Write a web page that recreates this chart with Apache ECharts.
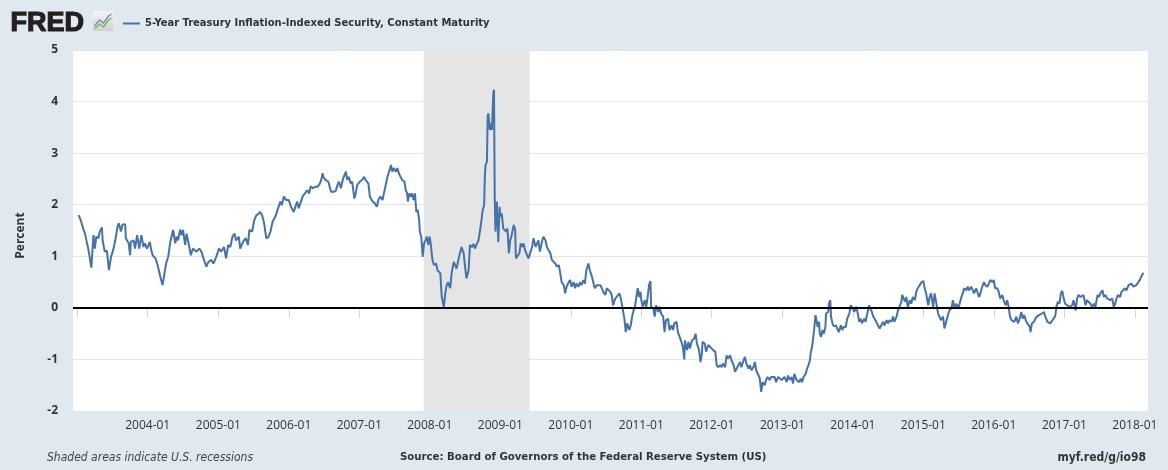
<!DOCTYPE html>
<html>
<head>
<meta charset="utf-8">
<script src="https://cdn.jsdelivr.net/npm/echarts@6/dist/echarts.min.js"></script>
<style>
html,body{margin:0;padding:0;background:#e1e9f0;}
#chart{width:1168px;height:470px;}
</style>
</head>
<body>
<div id="chart"></div>
<script>
// ---- Data (decimal year, percent) ----
const seriesName = '5-Year Treasury Inflation-Indexed Security, Constant Maturity';
const yTickValues = [-2, -1, 0, 1, 2, 3, 4, 5];
const xTickYears = [2003, 2004, 2005, 2006, 2007, 2008, 2009, 2010, 2011, 2012, 2013, 2014, 2015, 2016, 2017, 2018];
const xLabelYears = [2004, 2005, 2006, 2007, 2008, 2009, 2010, 2011, 2012, 2013, 2014, 2015, 2016, 2017, 2018];
const xRange = [[2002, 12, 10], [2018, 3, 10]];
const recession = [[2007, 12, 1], [2009, 6, 1]];

const obs2003to2005 = [[2003.02,1.80],[2003.05,1.70],[2003.09,1.51],[2003.11,1.44],[2003.16,1.12],[2003.20,0.78],[2003.23,1.41],[2003.25,1.15],[2003.27,1.38],[2003.30,1.35],[2003.32,1.48],[2003.35,1.56],[2003.36,1.31],[2003.39,1.09],[2003.42,1.11],[2003.45,0.73],[2003.48,0.99],[2003.51,1.12],[2003.54,1.31],[2003.57,1.57],[2003.59,1.64],[2003.62,1.48],[2003.64,1.61],[2003.68,1.62],[2003.69,1.35],[2003.73,1.25],[2003.75,1.02],[2003.76,1.28],[2003.80,1.31],[2003.82,1.15],[2003.85,1.41],[2003.88,1.15],[2003.91,1.41],[2003.94,1.18],[2003.96,1.25],[2003.99,1.15],
[2004.03,1.28],[2004.05,1.12],[2004.07,1.02],[2004.11,0.96],[2004.14,0.83],[2004.18,0.60],[2004.21,0.44],[2004.23,0.44],[2004.26,0.86],[2004.29,0.99],[2004.32,1.28],[2004.34,1.25],[2004.36,1.51],[2004.39,1.25],[2004.41,1.38],[2004.43,1.31],[2004.46,1.52],[2004.48,1.41],[2004.50,1.51],[2004.53,1.22],[2004.55,1.44],[2004.57,1.31],[2004.61,1.02],[2004.64,1.15],[2004.69,1.09],[2004.73,1.15],[2004.76,1.09],[2004.79,0.96],[2004.83,0.80],[2004.86,0.89],[2004.90,0.93],[2004.93,0.86],[2004.97,0.99],
[2005.01,1.15],[2005.04,1.09],[2005.08,1.18],[2005.11,0.96],[2005.14,1.22],[2005.17,1.18],[2005.20,1.38],[2005.23,1.44],[2005.25,1.31],[2005.29,1.38],[2005.31,1.15],[2005.35,1.28],[2005.39,1.35],[2005.42,1.22],[2005.44,1.51],[2005.48,1.48],[2005.51,1.70],[2005.54,1.80],[2005.57,1.82]];

const obs2005to2008 = [[2005.59,1.86],[2005.62,1.80],[2005.65,1.64],[2005.68,1.35],[2005.71,1.37],[2005.74,1.48],[2005.77,1.67],[2005.81,1.77],[2005.84,1.90],[2005.88,2.06],[2005.90,1.99],[2005.93,2.16],[2005.96,2.09],
[2006.00,2.09],[2006.03,1.96],[2006.07,1.86],[2006.10,1.99],[2006.12,2.06],[2006.14,1.93],[2006.18,2.09],[2006.20,2.17],[2006.23,2.22],[2006.26,2.28],[2006.29,2.22],[2006.31,2.36],[2006.34,2.32],[2006.38,2.35],[2006.41,2.35],[2006.44,2.41],[2006.46,2.48],[2006.48,2.61],[2006.49,2.54],[2006.52,2.48],[2006.56,2.45],[2006.58,2.35],[2006.60,2.25],[2006.64,2.25],[2006.67,2.28],[2006.69,2.38],[2006.71,2.45],[2006.74,2.32],[2006.76,2.45],[2006.78,2.54],[2006.81,2.64],[2006.83,2.48],[2006.85,2.54],[2006.88,2.41],[2006.90,2.45],[2006.93,2.12],[2006.95,2.22],[2006.97,2.38],
[2007.01,2.45],[2007.04,2.48],[2007.07,2.54],[2007.09,2.48],[2007.13,2.41],[2007.15,2.16],[2007.19,2.06],[2007.22,2.03],[2007.25,1.96],[2007.27,2.09],[2007.30,2.16],[2007.33,2.09],[2007.35,2.22],[2007.38,2.41],[2007.40,2.54],[2007.43,2.67],[2007.45,2.77],[2007.47,2.64],[2007.49,2.71],[2007.52,2.64],[2007.54,2.71],[2007.57,2.58],[2007.59,2.61],[2007.61,2.48],[2007.64,2.45],[2007.66,2.28],[2007.68,2.22],[2007.69,2.06],[2007.71,2.22],[2007.73,2.16],[2007.75,2.22],[2007.77,2.09],[2007.79,2.22],[2007.81,1.86],[2007.83,1.90],[2007.85,1.70],[2007.86,1.48],[2007.88,1.38],[2007.90,0.99],[2007.92,1.25],[2007.94,1.31],[2007.96,1.38],[2007.98,1.22],
[2008.00,1.38],[2008.02,1.18],[2008.03,1.02],[2008.04,0.93],[2008.06,0.83],[2008.09,0.86],[2008.11,0.73],[2008.13,0.76],[2008.15,0.67],[2008.17,0.21],[2008.20,0.02],[2008.22,0.28]];

const obs2008to2010 = [[2008.24,0.44],[2008.26,0.50],[2008.29,0.38],[2008.31,0.67],[2008.34,0.89],[2008.36,0.83],[2008.38,0.76],[2008.41,0.96],[2008.43,0.93],[2008.45,1.18],[2008.48,1.06],[2008.50,0.80],[2008.52,0.57],[2008.55,0.73],[2008.57,1.22],[2008.60,1.18],[2008.62,1.24],[2008.64,1.15],[2008.67,1.25],[2008.69,1.31],[2008.71,1.48],[2008.73,1.67],[2008.75,1.90],[2008.77,1.99],[2008.78,2.54],[2008.79,2.77],[2008.81,2.83],[2008.82,3.71],[2008.83,3.77],[2008.85,3.45],[2008.86,3.58],[2008.88,3.45],[2008.90,4.16],[2008.91,4.23],[2008.92,2.16],[2008.93,1.48],[2008.95,2.06],[2008.96,1.70],[2008.97,1.28],[2008.99,1.96],
[2009.00,1.77],[2009.02,1.83],[2009.04,1.54],[2009.05,1.57],[2009.08,1.48],[2009.10,1.54],[2009.12,1.06],[2009.14,1.31],[2009.16,1.41],[2009.19,1.61],[2009.21,1.51],[2009.22,0.96],[2009.24,0.93],[2009.27,1.06],[2009.29,1.25],[2009.31,1.18],[2009.33,1.25],[2009.35,1.12],[2009.38,1.02],[2009.40,0.96],[2009.42,0.99],[2009.45,1.18],[2009.47,1.35],[2009.50,1.18],[2009.52,1.25],[2009.54,1.31],[2009.56,1.09],[2009.59,1.28],[2009.61,1.38],[2009.64,1.31],[2009.66,1.18],[2009.68,1.15],[2009.71,1.06],[2009.73,0.93],[2009.75,0.96],[2009.78,0.86],[2009.80,0.80],[2009.83,0.83],[2009.85,0.67],[2009.87,0.50],[2009.90,0.44],[2009.92,0.28],[2009.94,0.41],[2009.97,0.50],[2009.99,0.54],
[2010.01,0.41],[2010.04,0.50],[2010.06,0.38],[2010.08,0.47],[2010.11,0.41],[2010.13,0.50],[2010.15,0.44],[2010.18,0.54],[2010.20,0.47],[2010.22,0.73],[2010.25,0.86],[2010.27,0.73],[2010.30,0.60],[2010.32,0.63],[2010.34,0.38],[2010.37,0.44],[2010.39,0.41],[2010.42,0.44],[2010.44,0.38],[2010.46,0.31],[2010.49,0.25],[2010.51,0.38],[2010.53,0.38],[2010.56,0.31],[2010.58,0.25],[2010.60,0.05],[2010.63,0.18],[2010.65,0.21],[2010.69,0.28]];

const obs2010to2013 = [[2010.71,0.18],[2010.74,-0.05],[2010.76,-0.21],[2010.78,-0.47],[2010.80,-0.30],[2010.83,-0.43],[2010.85,-0.34],[2010.87,-0.17],[2010.89,-0.05],[2010.91,0.02],[2010.93,0.21],[2010.95,0.38],[2010.97,0.21],[2010.99,0.31],
[2011.00,0.15],[2011.02,0.02],[2011.05,0.15],[2011.07,0.02],[2011.09,0.21],[2011.11,0.44],[2011.13,0.52],[2011.14,0.02],[2011.17,-0.01],[2011.19,-0.17],[2011.21,0.05],[2011.24,-0.08],[2011.26,0.02],[2011.28,-0.11],[2011.31,-0.17],[2011.33,-0.47],[2011.35,-0.24],[2011.38,-0.21],[2011.40,-0.43],[2011.43,-0.34],[2011.45,-0.43],[2011.47,-0.30],[2011.50,-0.27],[2011.52,-0.47],[2011.54,-0.50],[2011.57,-0.66],[2011.59,-0.76],[2011.61,-1.00],[2011.62,-0.63],[2011.65,-0.82],[2011.67,-0.66],[2011.69,-0.79],[2011.72,-0.63],[2011.75,-0.60],[2011.77,-0.50],[2011.79,-0.69],[2011.82,-0.82],[2011.84,-1.05],[2011.86,-0.89],[2011.87,-0.66],[2011.90,-0.69],[2011.92,-0.85],[2011.95,-0.72],[2011.98,-0.76],
[2012.00,-0.76],[2012.02,-0.82],[2012.05,-0.85],[2012.07,-1.11],[2012.09,-1.15],[2012.12,-1.11],[2012.14,-1.15],[2012.16,-1.08],[2012.19,-1.15],[2012.21,-0.92],[2012.23,-0.98],[2012.26,-0.92],[2012.28,-1.02],[2012.31,-1.11],[2012.33,-1.24],[2012.35,-1.18],[2012.38,-1.11],[2012.40,-1.05],[2012.42,-1.15],[2012.45,-1.02],[2012.47,-0.95],[2012.49,-1.08],[2012.52,-1.18],[2012.54,-1.11],[2012.56,-1.21],[2012.59,-1.15],[2012.61,-1.05],[2012.63,-1.21],[2012.65,-1.24],[2012.68,-1.37],[2012.70,-1.63],[2012.72,-1.44],[2012.75,-1.50],[2012.77,-1.40],[2012.79,-1.34],[2012.82,-1.40],[2012.84,-1.34],[2012.86,-1.37],[2012.89,-1.34],[2012.91,-1.44],[2012.94,-1.34],[2012.96,-1.37],[2012.99,-1.40],
[2013.01,-1.37],[2013.03,-1.34],[2013.06,-1.44],[2013.08,-1.31],[2013.10,-1.40],[2013.13,-1.34],[2013.15,-1.47],[2013.17,-1.28],[2013.20,-1.40],[2013.24,-1.44]];

const obs2013to2015 = [[2013.26,-1.37],[2013.28,-1.44],[2013.30,-1.34],[2013.33,-1.28],[2013.35,-1.18],[2013.37,-1.11],[2013.39,-1.02],[2013.40,-0.89],[2013.42,-0.76],[2013.43,-0.66],[2013.45,-0.43],[2013.47,-0.14],[2013.48,-0.21],[2013.50,-0.37],[2013.52,-0.27],[2013.53,-0.50],[2013.55,-0.56],[2013.57,-0.43],[2013.59,-0.50],[2013.61,-0.37],[2013.62,-0.11],[2013.65,-0.08],[2013.66,0.08],[2013.68,0.15],[2013.69,-0.17],[2013.71,-0.30],[2013.73,-0.36],[2013.76,-0.34],[2013.78,-0.37],[2013.80,-0.47],[2013.83,-0.34],[2013.85,-0.43],[2013.87,-0.37],[2013.90,-0.37],[2013.92,-0.21],[2013.95,-0.11],[2013.97,0.05],
[2014.00,-0.01],[2014.02,-0.08],[2014.05,0.02],[2014.07,-0.11],[2014.09,-0.27],[2014.11,-0.21],[2014.13,-0.30],[2014.16,-0.21],[2014.18,-0.27],[2014.21,-0.08],[2014.23,0.05],[2014.25,0.08],[2014.27,-0.08],[2014.29,-0.17],[2014.31,-0.21],[2014.33,-0.27],[2014.35,-0.30],[2014.38,-0.40],[2014.40,-0.43],[2014.43,-0.27],[2014.45,-0.34],[2014.48,-0.24],[2014.50,-0.30],[2014.52,-0.24],[2014.55,-0.27],[2014.57,-0.17],[2014.59,-0.27],[2014.62,-0.17],[2014.64,-0.05],[2014.66,0.02],[2014.69,0.12],[2014.70,0.25],[2014.72,0.28],[2014.74,0.12],[2014.76,0.21],[2014.78,0.02],[2014.81,0.15],[2014.83,0.08],[2014.85,0.21],[2014.88,0.15],[2014.90,0.31],[2014.92,0.38],[2014.95,0.44],[2014.97,0.49],
[2015.00,0.52],[2015.02,0.38],[2015.04,0.28],[2015.07,0.05],[2015.09,0.21],[2015.11,0.28],[2015.14,0.02],[2015.16,0.28],[2015.18,0.25],[2015.21,-0.11],[2015.23,-0.14],[2015.25,-0.24],[2015.28,-0.17],[2015.30,-0.40],[2015.33,-0.24],[2015.35,-0.14],[2015.37,-0.05],[2015.40,-0.01],[2015.42,0.15],[2015.44,0.02],[2015.47,0.08],[2015.49,-0.01],[2015.51,0.05],[2015.54,0.21],[2015.56,0.28],[2015.58,0.38],[2015.61,0.34],[2015.63,0.41],[2015.65,0.34],[2015.68,0.41],[2015.70,0.38],[2015.72,0.28],[2015.75,0.38],[2015.79,0.21]];

const obs2015to2018 = [[2015.81,0.28],[2015.83,0.38],[2015.86,0.50],[2015.88,0.44],[2015.91,0.41],[2015.93,0.47],[2015.95,0.54],[2015.98,0.50],
[2016.00,0.54],[2016.02,0.38],[2016.05,0.38],[2016.07,0.31],[2016.09,0.18],[2016.12,0.25],[2016.14,0.15],[2016.17,0.05],[2016.19,0.15],[2016.21,0.02],[2016.23,-0.17],[2016.25,-0.24],[2016.27,-0.21],[2016.29,-0.27],[2016.32,-0.17],[2016.34,-0.30],[2016.36,-0.24],[2016.39,-0.08],[2016.41,-0.21],[2016.43,-0.14],[2016.46,-0.27],[2016.48,-0.30],[2016.51,-0.37],[2016.52,-0.47],[2016.54,-0.30],[2016.57,-0.27],[2016.59,-0.21],[2016.61,-0.17],[2016.64,-0.14],[2016.66,-0.17],[2016.68,-0.11],[2016.71,-0.08],[2016.73,-0.17],[2016.76,-0.27],[2016.78,-0.24],[2016.80,-0.30],[2016.83,-0.24],[2016.85,-0.27],[2016.87,-0.16],[2016.89,0.05],[2016.91,0.12],[2016.93,0.08],[2016.95,0.28],[2016.97,0.33],[2016.99,0.18],
[2017.01,0.08],[2017.04,0.05],[2017.06,0.08],[2017.08,0.02],[2017.11,0.05],[2017.13,0.15],[2017.16,-0.05],[2017.18,0.18],[2017.20,0.25],[2017.23,0.21],[2017.25,0.18],[2017.27,0.25],[2017.30,0.05],[2017.32,0.15],[2017.34,0.18],[2017.37,0.08],[2017.39,0.02],[2017.42,0.08],[2017.44,0.02],[2017.47,0.25],[2017.49,0.21],[2017.51,0.28],[2017.54,0.34],[2017.56,0.21],[2017.58,0.25],[2017.61,0.18],[2017.63,0.21],[2017.65,0.15],[2017.68,0.18],[2017.70,0.02],[2017.72,0.08],[2017.74,0.18],[2017.76,0.25],[2017.79,0.21],[2017.81,0.31],[2017.83,0.28],[2017.86,0.38],[2017.88,0.34],[2017.91,0.44],[2017.93,0.42],[2017.95,0.47],[2017.98,0.41],
[2018.00,0.38],[2018.02,0.44],[2018.05,0.50],[2018.07,0.54],[2018.09,0.60],[2018.12,0.68]];

// ---- helpers ----
function yearToTime(y) {
  const Y = Math.floor(y);
  const a = Date.UTC(Y, 0, 1);
  const b = Date.UTC(Y + 1, 0, 1);
  return a + (y - Y) * (b - a);
}
function ymd(arr) { return Date.UTC(arr[0], arr[1] - 1, arr[2]); }

const allObs = [].concat(obs2003to2005, obs2005to2008, obs2008to2010, obs2010to2013, obs2013to2015, obs2015to2018);
const lineData = allObs.map(p => [yearToTime(p[0]), p[1]]);
const tickTimes = xTickYears.map(y => Date.UTC(y, 0, 1));
const labelTimes = xLabelYears.map(y => Date.UTC(y, 0, 1));

const FONT = "'Open Sans', 'Liberation Sans', sans-serif";
const NARROW = "'DejaVu Sans Condensed', 'Liberation Sans', sans-serif";

const chart = echarts.init(document.getElementById('chart'), null, { renderer: 'canvas' });
chart.setOption({
  animation: false,
  backgroundColor: '#e1e9f0',
  grid: { left: 73, right: 20, top: 50, bottom: 59, show: true, backgroundColor: '#ffffff', borderWidth: 0 },
  legend: {
    data: [seriesName],
    left: 118, top: 13,
    icon: 'rect', itemWidth: 17, itemHeight: 2, itemGap: 5,
    textStyle: { color: '#333333', fontSize: 11.1, fontWeight: 'bold', fontFamily: NARROW },
    selectedMode: false
  },
  xAxis: {
    type: 'value',
    min: ymd(xRange[0]), max: ymd(xRange[1]),
    splitLine: { show: false },
    axisLine: { show: true, lineStyle: { color: '#ccd6eb', width: 1 } },
    axisTick: { show: true, length: 10, lineStyle: { color: '#ccd6eb' }, customValues: tickTimes },
    axisLabel: {
      color: '#333333', fontSize: 12, fontFamily: FONT, margin: 9,
      customValues: labelTimes,
      formatter: function (v) { const d = new Date(v); return d.getUTCFullYear() + '-01'; }
    }
  },
  yAxis: {
    type: 'value', min: -2, max: 5, interval: 1,
    name: 'Percent', nameLocation: 'middle', nameGap: 46, nameRotate: 90,
    nameTextStyle: { color: '#333333', fontSize: 12, fontFamily: FONT, fontWeight: 'bold', padding: [0, 10, 0, 0] },
    axisLine: { show: false }, axisTick: { show: false },
    splitLine: { show: true, lineStyle: { color: '#e6e6e6', width: 1 } },
    axisLabel: { color: '#333333', fontSize: 12, fontFamily: FONT, fontWeight: 'bold', margin: 15 }
  },
  series: [{
    name: seriesName,
    type: 'line',
    data: lineData,
    showSymbol: false,
    symbol: 'none',
    lineStyle: { color: '#4572a7', width: 2 },
    itemStyle: { color: '#4572a7' },
    markArea: {
      silent: true,
      itemStyle: { color: '#e5e5e5' },
      data: [[{ xAxis: ymd(recession[0]) }, { xAxis: ymd(recession[1]) }]]
    },
    markLine: {
      silent: true, symbol: ['none', 'none'],
      label: { show: false },
      lineStyle: { color: '#000000', width: 2, type: 'solid' },
      data: [{ yAxis: 0 }]
    }
  }],
  graphic: [
    { type: 'text', left: 10, top: 9, style: { text: 'FRED', fill: '#231f20', stroke: '#231f20', lineWidth: 1.2, font: "bold 27px 'Liberation Sans', Arial, sans-serif" } },
    { type: 'group', left: 92, top: 11, children: [
      { type: 'rect', shape: { x: 0, y: 0, width: 21, height: 20, r: 2 },
        style: { fill: new echarts.graphic.LinearGradient(0, 0, 0, 1, [{ offset: 0, color: '#f4f4f4' }, { offset: 1, color: '#cfd3d6' }]) } },
      { type: 'polyline', shape: { points: [[2, 15], [7, 9], [11, 12], [16, 5], [19, 3]] }, style: { stroke: '#6c8ebf', lineWidth: 1.3, fill: null } },
      { type: 'polyline', shape: { points: [[2, 18], [7, 13], [11, 16], [16, 9], [19, 7]] }, style: { stroke: '#7fae52', lineWidth: 1.3, fill: null } }
    ] },
    { type: 'text', left: 47, top: 452, style: { text: 'Shaded areas indicate U.S. recessions', fill: '#444444', font: "italic 12px " + NARROW } },
    { type: 'text', left: 400, top: 452, style: { text: 'Source: Board of Governors of the Federal Reserve System (US)', fill: '#333333', font: "bold 11.3px " + NARROW } },
    { type: 'text', right: 22, top: 452, style: { text: 'myf.red/g/io98', fill: '#333333', font: "bold 12px " + NARROW } }
  ]
});
</script>
</body>
</html>
